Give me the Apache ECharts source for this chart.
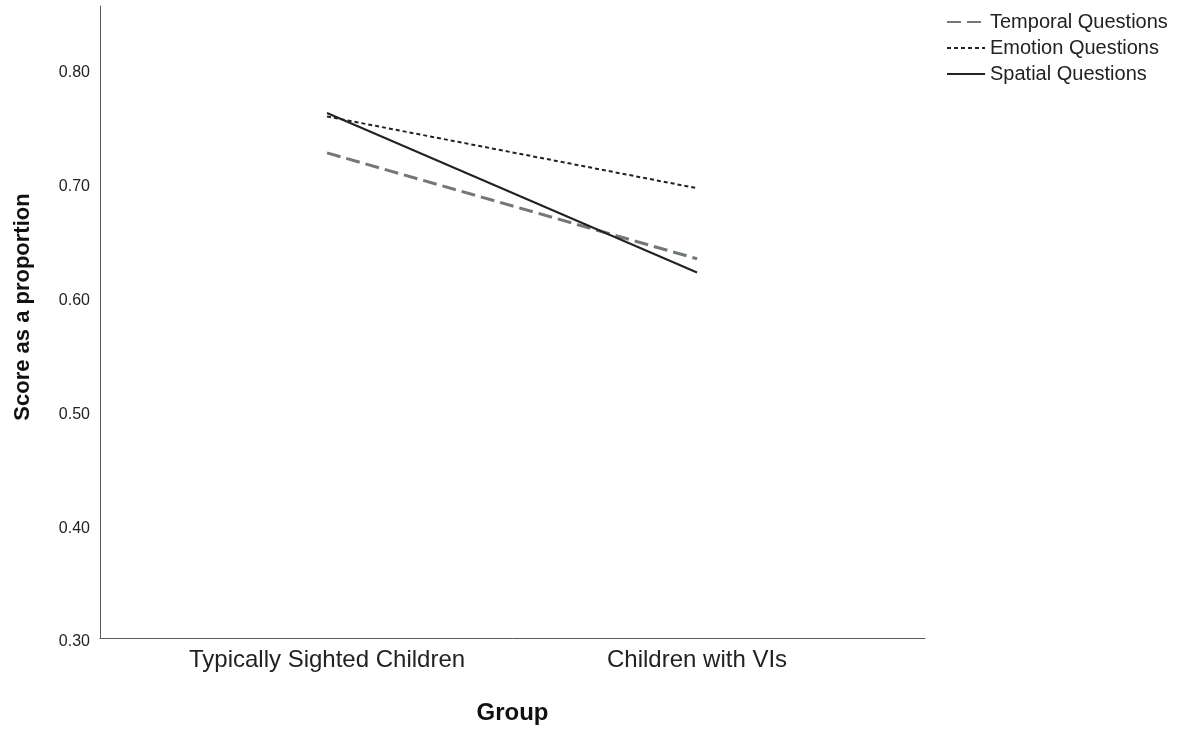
<!DOCTYPE html>
<html>
<head>
<meta charset="utf-8">
<script src="https://cdn.jsdelivr.net/npm/echarts@6/dist/echarts.min.js"></script>
<style>html,body{margin:0;padding:0;background:#fff}#c{width:1181px;height:733px}</style>
</head>
<body>
<div id="c"></div>
<script>
const categories = ["Typically Sighted Children", "Children with VIs"];
const seriesNames = ["Temporal Questions", "Emotion Questions", "Spatial Questions"];
const temporal = [0.726, 0.633];
const emotion = [0.758, 0.695];
const spatial = [0.761, 0.621];
const yTicks = [0.30, 0.40, 0.50, 0.60, 0.70, 0.80];

const pos = [1, 2];
function pts(arr){ return arr.map((v,i)=>[pos[i], v]); }

const chart = echarts.init(document.getElementById('c'));
chart.setOption({
  animation: false,
  backgroundColor: '#fff',
  grid: {left: 100, right: 256, top: 6, bottom: 95, outerBoundsMode: 'none', containLabel: false},
  legend: {
    orient: 'vertical', left: 941, top: 7, itemWidth: 38, itemHeight: 20, itemGap: 6,
    itemStyle: {opacity: 0},
    textStyle: {fontFamily: 'Liberation Sans', fontSize: 20, color: '#222'},
    data: seriesNames
  },
  xAxis: {
    type: 'value', min: 0.3865, max: 2.616,
    name: 'Group', nameLocation: 'middle', nameGap: 63,
    nameTextStyle: {fontFamily: 'Liberation Sans', fontSize: 24, fontWeight: 'bold', color: '#111'},
    axisLine: {lineStyle: {color: '#5a5a5a', width: 1}},
    axisTick: {show: false},
    splitLine: {show: false},
    axisLabel: {
      customValues: pos, margin: 10,
      formatter: v => categories[Math.round(v) - 1] || '',
      fontFamily: 'Liberation Sans', fontSize: 24, color: '#222'
    }
  },
  yAxis: {
    type: 'value', min: 0.30, max: 0.855,
    name: 'Score as a proportion', nameLocation: 'middle', nameGap: 66,
    nameTextStyle: {fontFamily: 'Liberation Sans', fontSize: 22, fontWeight: 'bold', color: '#111', padding: [0, 0, 0, 30]},
    axisLine: {show: true, lineStyle: {color: '#5a5a5a', width: 1}},
    axisTick: {show: false},
    splitLine: {show: false},
    axisLabel: {
      customValues: yTicks, margin: 10,
      formatter: v => v.toFixed(2),
      fontFamily: 'Liberation Sans', fontSize: 16, color: '#222', verticalAlign: 'top', lineHeight: 8
    }
  },
  series: [
    {name: seriesNames[0], type: 'line', data: pts(temporal), symbol: 'none',
     lineStyle: {color: '#6f7a77', width: 3, type: [14, 6]}, itemStyle: {color: '#6f7a77'}},
    {name: seriesNames[1], type: 'line', data: pts(emotion), symbol: 'none',
     lineStyle: {color: '#222', width: 2, type: [4, 3]}, itemStyle: {color: '#222'}},
    {name: seriesNames[2], type: 'line', data: pts(spatial), symbol: 'none',
     lineStyle: {color: '#222', width: 2, type: 'solid'}, itemStyle: {color: '#222'}}
  ]
});
</script>
</body>
</html>
